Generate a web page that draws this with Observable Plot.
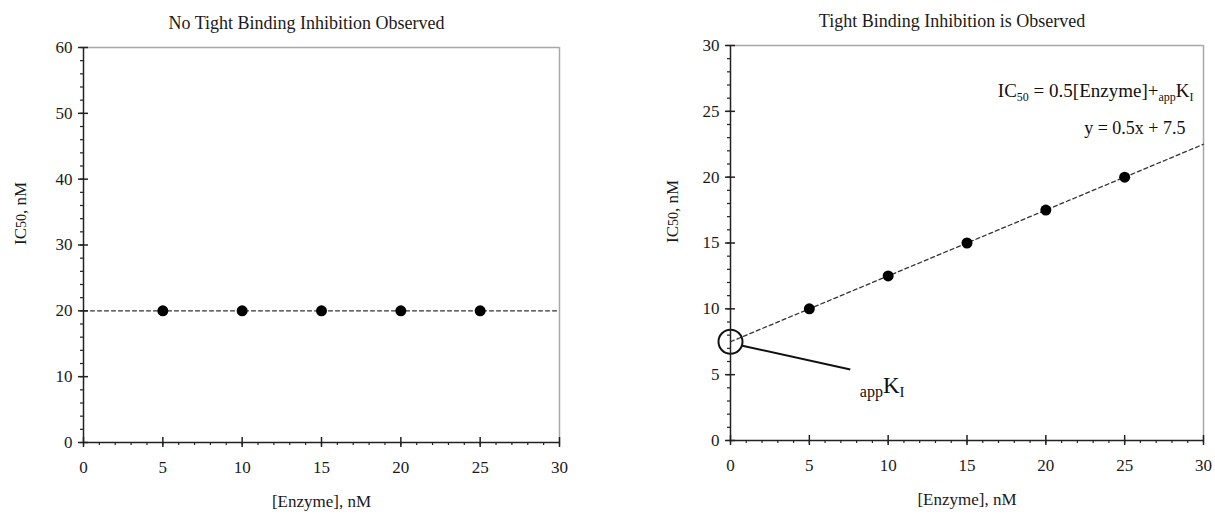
<!DOCTYPE html>
<html><head><meta charset="utf-8">
<script src="https://cdn.jsdelivr.net/npm/d3@7"></script>
<script src="https://cdn.jsdelivr.net/npm/@observablehq/plot@0.6"></script>
<style>
body{margin:0;background:#fff}
#wrap{display:flex;width:1215px;height:520px;overflow:hidden}
svg{font-family:"Liberation Serif","DejaVu Serif",serif}
</style>
</head><body><div id="wrap"></div>
<script>
// ---- data ----
const enzyme = [5, 10, 15, 20, 25];
const ic50NoTight = [20, 20, 20, 20, 20];
const ic50Tight = [10, 12.5, 15, 17.5, 20];
const trendX = [0, 30];
const trendNoTight = [20, 20];
const trendTight = [7.5, 22.5];
const appKI = 7.5;
const xTicks = [0, 5, 10, 15, 20, 25, 30];
const xMinor = d3.range(0, 31, 1);
const yTicksLeft = [0, 10, 20, 30, 40, 50, 60];
const yMinorLeft = d3.range(0, 61, 2);
const yTicksRight = [0, 5, 10, 15, 20, 25, 30];
const yMinorRight = d3.range(0, 31, 1);
const titles = ["No Tight Binding Inhibition Observed", "Tight Binding Inhibition is Observed"];
const xLabel = "[Enzyme], nM";
const yLabel = "IC50, nM";
const eqText = "IC50 = 0.5[Enzyme]+appKI";
const fitText = "y = 0.5x + 7.5";
const kiLabel = "appKI";

function panel({width, ml, mr, mt, mb, ymax, yTicks, yMinor, ys, trend, title, extra = [], ylabDx}) {
  const pts = enzyme.map((x, i) => ({x, y: ys[i]}));
  const line = trendX.map((x, i) => ({x, y: trend[i]}));
  return Plot.plot({
    width, height: 520,
    marginLeft: ml, marginRight: mr, marginTop: mt, marginBottom: mb,
    x: {domain: [0, 30], axis: null},
    y: {domain: [0, ymax], axis: null},
    style: {fontFamily: "Liberation Serif, serif", background: "transparent"},
    marks: [
      Plot.ruleY([ymax], {stroke: "#a8a8a8", strokeWidth: 1.5}),
      Plot.ruleX([30], {stroke: "#a8a8a8", strokeWidth: 1.5}),
      Plot.line(line, {x: "x", y: "y", stroke: "#333", strokeWidth: 1.3, strokeDasharray: "4,3"}),
      Plot.dot(pts, {x: "x", y: "y", r: 5.5, fill: "#000", stroke: "none"}),
      ...extra,
      Plot.ruleX([0], {stroke: "#222", strokeWidth: 1.5}),
      Plot.ruleY([0], {stroke: "#222", strokeWidth: 1.5}),
      // minor ticks
      Plot.ruleX(xMinor, {x: d => d, y1: 0, y2: 0, insetTop: 3, insetBottom: 0, stroke: "#222", strokeWidth: 1.2}),
      Plot.ruleY(yMinor, {y: d => d, x1: 0, x2: 0, insetLeft: -3, insetRight: 0, stroke: "#222", strokeWidth: 1.2}),
      // major ticks
      Plot.ruleX(xTicks, {x: d => d, y1: 0, y2: 0, insetTop: -5, insetBottom: -5, stroke: "#222", strokeWidth: 1.5}),
      Plot.ruleY(yTicks, {y: d => d, x1: 0, x2: 0, insetLeft: -5, insetRight: -5, stroke: "#222", strokeWidth: 1.5}),
      // tick labels
      Plot.text(xTicks, {x: d => d, y: 0, dy: 25, text: d => String(d), fontSize: 17, fill: "#1a1a1a"}),
      Plot.text(yTicks, {y: d => d, x: 0, dx: -11, textAnchor: "end", text: d => String(d), fontSize: 17, fill: "#1a1a1a"}),
      // axis titles
      Plot.text([xLabel], {frameAnchor: "bottom", dy: 64, text: d => d, fontSize: 17, fill: "#1a1a1a"}),
      Plot.text([yLabel], {frameAnchor: "left", dx: ylabDx, rotate: -90, text: d => d, fontSize: 17, fill: "#1a1a1a", className: "ylab"}),
      // title
      Plot.text([title], {frameAnchor: "top", dx: -15, dy: -31, text: d => d, fontSize: 18, fill: "#1a1a1a"})
    ]
  });
}

const left = panel({
  width: 607, ml: 83, mr: 48, mt: 47, mb: 78, ymax: 60,
  yTicks: yTicksLeft, yMinor: yMinorLeft, ys: ic50NoTight, trend: trendNoTight,
  title: titles[0], ylabDx: -63
});

const right = panel({
  width: 608, ml: 123, mr: 12, mt: 45, mb: 80, ymax: 30,
  yTicks: yTicksRight, yMinor: yMinorRight, ys: ic50Tight, trend: trendTight,
  title: titles[1], ylabDx: -58,
  extra: [
    Plot.dot([{x: 0, y: appKI}], {x: "x", y: "y", r: 12, stroke: "#111", strokeWidth: 2, fill: "none"}),
    Plot.link([{x1: 0.75, y1: 7.2, x2: 7.6, y2: 5.4}], {x1: "x1", y1: "y1", x2: "x2", y2: "y2", stroke: "#111", strokeWidth: 2}),
    Plot.text([kiLabel], {x: 8.2, y: 4.2, text: d => d, textAnchor: "start", fontSize: 23, fill: "#111", className: "kilab"}),
    Plot.text([eqText], {frameAnchor: "top-right", dx: -10, dy: 38, text: d => d, textAnchor: "end", fontSize: 19, fill: "#111", className: "eqlab"}),
    Plot.text([fitText], {frameAnchor: "top-right", dx: -18, dy: 76, text: d => d, textAnchor: "end", fontSize: 18, fill: "#111"})
  ]
});

document.getElementById("wrap").append(left, right);

// rich text: subscripts
function rich(sel, parts) {
  d3.selectAll(sel + " text").each(function() {
    const t = d3.select(this);
    t.text(null);
    for (const p of parts) {
      const s = t.append("tspan").text(p.t);
      if (p.size) s.attr("font-size", p.size);
      if (p.dy) s.attr("dy", p.dy);
    }
  });
}
rich(".eqlab", [{t: "IC"}, {t: "50", size: 12, dy: 4}, {t: " = 0.5[Enzyme]+", dy: -4}, {t: "app", size: 12, dy: 4}, {t: "K", dy: -4}, {t: "I", size: 12, dy: 4}]);
rich(".kilab", [{t: "app", size: 16, dy: 4}, {t: "K", dy: -4}, {t: "I", size: 15, dy: 4}]);
rich(".ylab", [{t: "IC"}, {t: "50", size: 14}, {t: ", nM"}]);
</script></body></html>
